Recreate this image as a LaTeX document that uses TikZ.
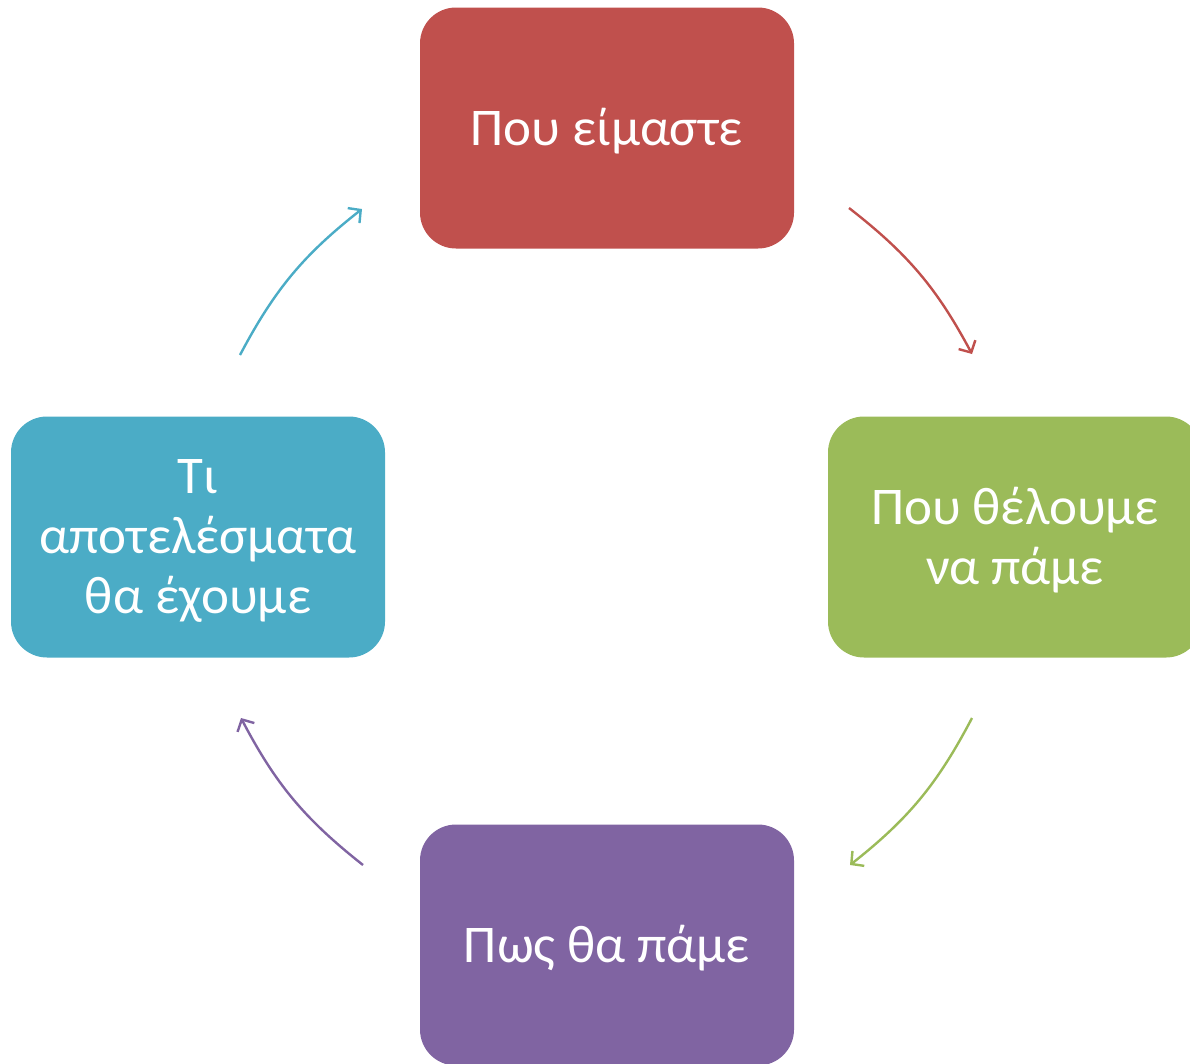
\documentclass[tikz,border=0pt]{standalone}
\usepackage{fontspec}
\setmainfont{Carlito}
\usetikzlibrary{arrows.meta}
\definecolor{cred}{HTML}{C0504D}
\definecolor{cgreen}{HTML}{9BBB59}
\definecolor{cpurple}{HTML}{8064A2}
\definecolor{cblue}{HTML}{4BACC6}
\begin{document}
\begin{tikzpicture}[x=1pt,y=-1pt,
  boxstyle/.style={rounded corners=36pt, minimum width=374pt, minimum height=241pt, inner sep=0pt},
  textstyle/.style={inner sep=0pt, text=white, align=center, font=\fontsize{53}{60}\selectfont},
  arrstyle/.style={line width=2.4pt, -{Straight Barb[length=9pt,width=19pt,line width=2.4pt]}}]
\useasboundingbox (0,0) rectangle (1190,1063);
\clip (0,0) rectangle (1190,1063);
\node[boxstyle, fill=cred] (top) at (607,128) {};
\node[boxstyle, fill=cgreen] (right) at (1015,537) {};
\node[boxstyle, fill=cpurple] (bottom) at (607,945) {};
\node[boxstyle, fill=cblue] (left) at (198,537) {};
\node[textstyle] (toptext) at (607,131) {Που είμαστε};
\node[textstyle] (righttext) at (1015,540) {Που θέλουμε\\να πάμε};
\node[textstyle] (bottomtext) at (607,948) {Πως θα πάμε};
\node[textstyle] (lefttext) at (198,541) {Τι\\αποτελέσματα\\θα έχουμε};
\coordinate (r1) at (849,208); \coordinate (r2) at (972,354);
\coordinate (g1) at (972,718); \coordinate (g2) at (850,865);
\coordinate (p1) at (363,865); \coordinate (p2) at (241,718);
\coordinate (b1) at (240,355); \coordinate (b2) at (362,209);
\draw[arrstyle, cred] (r1) to[bend left=12] (r2);
\draw[arrstyle, cgreen] (g1) to[bend left=12] (g2);
\draw[arrstyle, cpurple] (p1) to[bend left=12] (p2);
\draw[arrstyle, cblue] (b1) to[bend left=12] (b2);
\end{tikzpicture}
\end{document}
